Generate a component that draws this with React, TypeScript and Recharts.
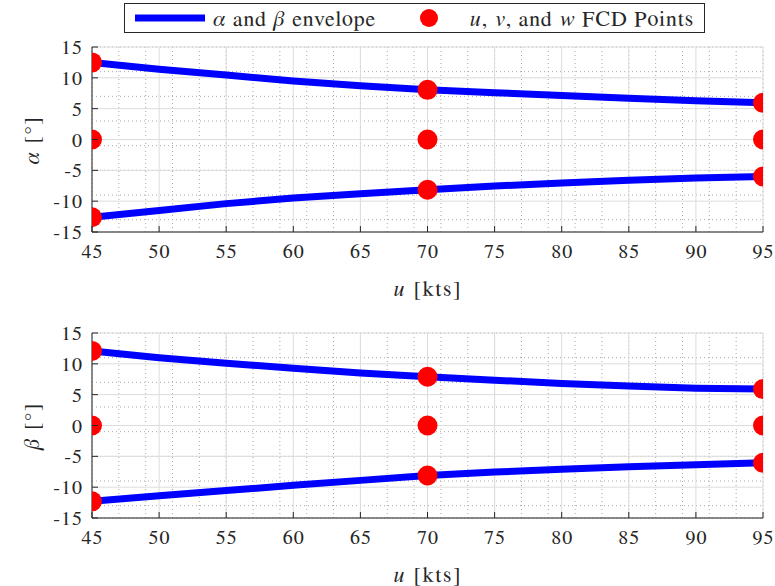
import React from "react";
import { ComposedChart, Line, Scatter, XAxis, YAxis, CartesianGrid } from "recharts";

// ---- data ----
const uVals = [45, 50, 55, 60, 65, 70, 75, 80, 85, 90, 95];
const alphaUpper = [12.5, 11.4, 10.45, 9.5, 8.7, 8.05, 7.6, 7.15, 6.7, 6.3, 5.95];
const alphaLower = [-12.6, -11.5, -10.4, -9.5, -8.8, -8.15, -7.55, -7.05, -6.6, -6.25, -6.0];
const betaUpper = [12.1, 11.0, 10.1, 9.3, 8.5, 7.9, 7.35, 6.8, 6.4, 6.05, 5.9];
const betaLower = [-12.3, -11.4, -10.55, -9.7, -8.9, -8.1, -7.55, -7.1, -6.7, -6.35, -6.05];

const fcdU = [45, 45, 45, 70, 70, 70, 95, 95, 95];
const fcdAlpha = [12.5, 0, -12.6, 8.05, 0, -8.15, 5.95, 0, -6.0];
const fcdBeta = [12.1, 0, -12.3, 7.9, 0, -8.1, 5.9, 0, -6.05];

const xTicks = [45, 50, 55, 60, 65, 70, 75, 80, 85, 90, 95];
const yTicks = [-15, -10, -5, 0, 5, 10, 15];
const xMinorTicks = [
  45, 46, 47, 48, 49, 50, 51, 52, 53, 54, 55, 56, 57, 58, 59, 60, 61, 62, 63, 64, 65, 66, 67, 68, 69, 70,
  71, 72, 73, 74, 75, 76, 77, 78, 79, 80, 81, 82, 83, 84, 85, 86, 87, 88, 89, 90, 91, 92, 93, 94, 95,
];
const yMinorTicks = [
  -15, -14, -13, -12, -11, -10, -9, -8, -7, -6, -5, -4, -3, -2, -1, 0, 1, 2, 3, 4, 5, 6, 7, 8, 9, 10, 11,
  12, 13, 14, 15,
];

const alphaRows = uVals.map((u, i) => ({ u, hi: alphaUpper[i], lo: alphaLower[i] }));
const betaRows = uVals.map((u, i) => ({ u, hi: betaUpper[i], lo: betaLower[i] }));
const alphaPts = fcdU.map((u, i) => ({ u, v: fcdAlpha[i] }));
const betaPts = fcdU.map((u, i) => ({ u, v: fcdBeta[i] }));

// ---- style ----
const FONT = "FreeSerif, 'Liberation Serif', serif";
const TICK_FONT = "FreeSerif";
const AX = "#262626";
const BLUE = "#0000ff";
const RED = "#ff0000";
const TICK_FS = 20;
const TM_X = 12;
const TM_Y = 10;
const TL = 6;

const BottomTick = (p: any) => {
  const { x, y, payload } = p;
  const ay = y - TM_X;
  return (
    <g>
      <line x1={x} x2={x} y1={ay} y2={ay - TL} stroke={AX} strokeWidth={1} />
      <text x={x + 0.5} y={y} dy="0.71em" textAnchor="middle" fontFamily={TICK_FONT} fontSize={TICK_FS} letterSpacing={1} fill={AX}>
        {payload.value}
      </text>
    </g>
  );
};
const LeftTick = (p: any) => {
  const { x, y, payload } = p;
  const ax = x + TM_Y;
  return (
    <g>
      <line x1={ax} x2={ax + TL} y1={y} y2={y} stroke={AX} strokeWidth={1} />
      <text x={x + 1} y={y} dy="0.35em" textAnchor="end" fontFamily={TICK_FONT} fontSize={TICK_FS} letterSpacing={1} fill={AX}>
        {payload.value}
      </text>
    </g>
  );
};
const TopTick = (p: any) => {
  const { x, y } = p;
  return <line x1={x} x2={x} y1={y} y2={y + TL} stroke={AX} strokeWidth={1} />;
};
const RightTick = (p: any) => {
  const { x, y } = p;
  return <line x1={x} x2={x - TL} y1={y} y2={y} stroke={AX} strokeWidth={1} />;
};

const Dot = (p: any) => <circle cx={p.cx} cy={p.cy} r={10} fill={RED} />;

function Plot({ rows, pts, height, marginTop }: { rows: any[]; pts: any[]; height: number; marginTop: number }) {
  return (
    <ComposedChart
      width={775}
      height={height}
      data={rows}
      margin={{ top: marginTop, right: 12, bottom: 0, left: 0 }}
      style={{ fontFamily: FONT }}
    >
      <XAxis xAxisId="minor" type="number" dataKey="u" domain={[45, 95]} ticks={xMinorTicks} hide allowDataOverflow />
      <YAxis yAxisId="minor" type="number" domain={[-15, 15]} ticks={yMinorTicks} hide allowDataOverflow />
      <CartesianGrid xAxisId="minor" yAxisId="minor" stroke="#a8a8a8" strokeDasharray="1 3" strokeWidth={1} />
      <CartesianGrid stroke="#dcdcdc" strokeWidth={1} />
      <XAxis
        type="number"
        dataKey="u"
        domain={[45, 95]}
        ticks={xTicks}
        interval={0}
        allowDataOverflow
        height={height - marginTop - 185}
        tickSize={0}
        tickMargin={TM_X}
        tickLine={false}
        axisLine={{ stroke: AX }}
        tick={BottomTick}
      />
      <YAxis
        type="number"
        domain={[-15, 15]}
        ticks={yTicks}
        interval={0}
        allowDataOverflow
        width={92}
        tickSize={0}
        tickMargin={TM_Y}
        tickLine={false}
        axisLine={{ stroke: AX }}
        tick={LeftTick}
      />
      <XAxis
        xAxisId="top"
        orientation="top"
        type="number"
        dataKey="u"
        domain={[45, 95]}
        ticks={xTicks}
        interval={0}
        allowDataOverflow
        height={0}
        tickSize={0}
        tickMargin={0}
        tickLine={false}
        axisLine={{ stroke: AX }}
        tick={TopTick}
      />
      <YAxis
        yAxisId="right"
        orientation="right"
        type="number"
        domain={[-15, 15]}
        ticks={yTicks}
        interval={0}
        allowDataOverflow
        width={0}
        tickSize={0}
        tickMargin={0}
        tickLine={false}
        axisLine={{ stroke: AX }}
        tick={RightTick}
      />
      <Line dataKey="hi" stroke={BLUE} strokeWidth={7} dot={false} strokeLinejoin="round" type="linear" isAnimationActive={false} />
      <Line dataKey="lo" stroke={BLUE} strokeWidth={7} dot={false} strokeLinejoin="round" type="linear" isAnimationActive={false} />
      <Scatter data={pts} dataKey="v" shape={Dot} isAnimationActive={false} />
    </ComposedChart>
  );
}

const labelBase: React.CSSProperties = {
  position: "absolute",
  fontFamily: FONT,
  color: AX,
  whiteSpace: "nowrap",
  lineHeight: 1,
  transform: "translate(-50%, -50%)",
};

export default function App() {
  return (
    <div style={{ position: "absolute", left: 0, top: 0, width: 775, height: 586, background: "#fff", fontFamily: FONT }}>
      <div style={{ position: "absolute", left: 0, top: 0 }}>
        <Plot rows={alphaRows} pts={alphaPts} height={300} marginTop={47} />
      </div>
      <div style={{ position: "absolute", left: 0, top: 286 }}>
        <Plot rows={betaRows} pts={betaPts} height={300} marginTop={47} />
      </div>

      {/* axis labels */}
      <div style={{ ...labelBase, left: 32, top: 140, fontSize: 22, letterSpacing: 1.5, transform: "translate(-50%, -50%) rotate(-90deg)" }}>
        <i>α</i> [°]
      </div>
      <div style={{ ...labelBase, left: 428, top: 289, fontSize: 22, letterSpacing: 1.8 }}>
        <i>u</i> [kts]
      </div>
      <div style={{ ...labelBase, left: 32, top: 426, fontSize: 22, letterSpacing: 1.5, transform: "translate(-50%, -50%) rotate(-90deg)" }}>
        <i>β</i> [°]
      </div>
      <div style={{ ...labelBase, left: 428, top: 575, fontSize: 22, letterSpacing: 1.8 }}>
        <i>u</i> [kts]
      </div>

      {/* legend */}
      <div
        style={{
          position: "absolute",
          left: 124,
          top: 3,
          width: 581,
          height: 30,
          border: `1px solid ${AX}`,
          background: "#fff",
          boxSizing: "border-box",
          fontFamily: FONT,
          color: AX,
        }}
      >
        <svg width={581} height={30} style={{ position: "absolute", left: -1, top: -1 }}>
          <line x1={11} x2={81} y1={15} y2={15} stroke={BLUE} strokeWidth={7} />
          <circle cx={305} cy={15} r={9} fill={RED} />
        </svg>
        <div style={{ ...labelBase, transform: "translate(0, -50%)", left: 88, top: 15, fontSize: 22, letterSpacing: 1 }}>
          <i>α</i> and <i>β</i> envelope
        </div>
        <div style={{ ...labelBase, transform: "translate(0, -50%)", left: 345, top: 15, fontSize: 22, letterSpacing: 1 }}>
          <i>u</i>, <i>v</i>, and <i>w</i> FCD Points
        </div>
      </div>
    </div>
  );
}
